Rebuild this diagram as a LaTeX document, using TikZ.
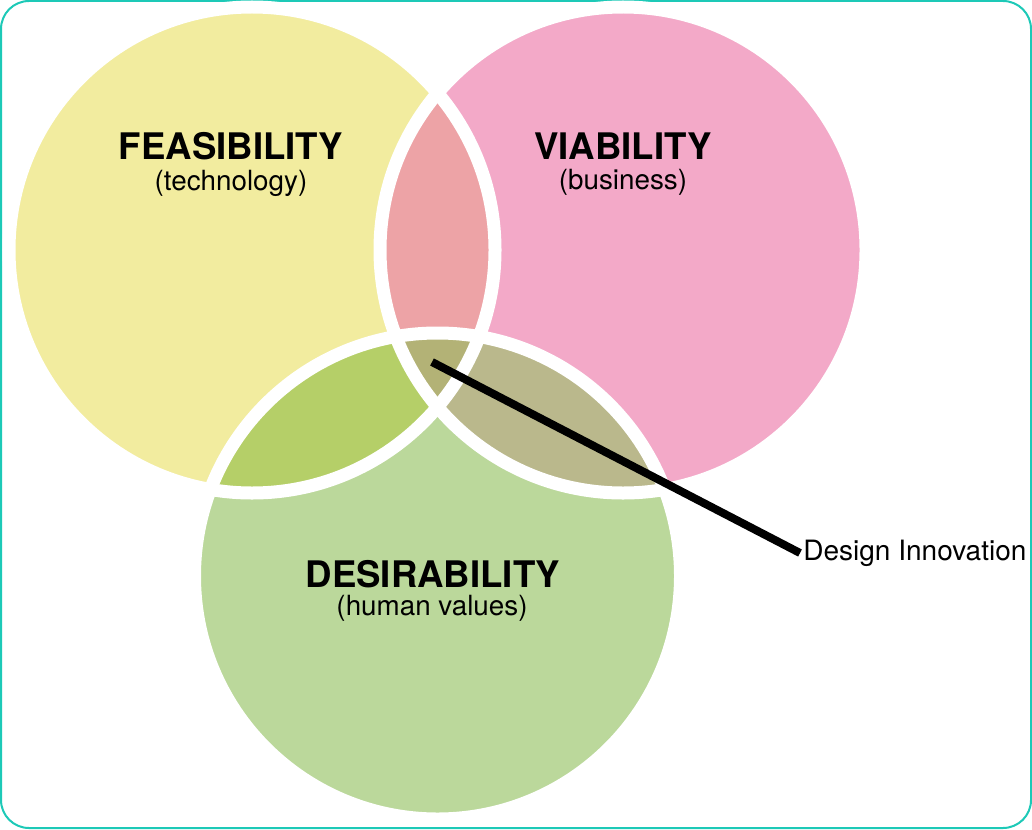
\documentclass[tikz,border=0pt]{standalone}
\usepackage{fontspec}
\setmainfont{TeX Gyre Heros}
\usetikzlibrary{positioning}

\definecolor{feasfill}{HTML}{F2EC9F}
\definecolor{viabfill}{HTML}{F3A9C8}
\definecolor{desifill}{HTML}{BBD89B}
\definecolor{fvfill}{HTML}{EDA3A6}
\definecolor{fdfill}{HTML}{B5CF68}
\definecolor{vdfill}{HTML}{BAB88C}
\definecolor{corefill}{HTML}{B3B276}
\definecolor{frame}{HTML}{1DC9B7}

\begin{document}
\begin{tikzpicture}[
    x=0.5pt, y=-0.5pt,
    % Define styles for reusable components
    title/.style={font=\fontsize{18.3}{20}\selectfont\bfseries, inner sep=0pt},
    subtitle/.style={font=\fontsize{13.9}{16}\selectfont, inner sep=0pt},
    gap/.style={draw=white, line width=6.5pt},
    pointer/.style={line width=4pt}
]
    \def\rad{121.5pt}
    \useasboundingbox (0,0) rectangle (1032,829);

    % --- FRAME ---
    \draw[frame, line width=1pt, rounded corners=14pt] (1,1) rectangle (1031,828);

    % --- CIRCLE CENTRES ---
    \coordinate (F) at (252,250);
    \coordinate (V) at (623,250);
    \coordinate (D) at (437.5,576);

    % --- BASE CIRCLES ---
    \fill[feasfill] (F) circle[radius=\rad];
    \fill[viabfill] (V) circle[radius=\rad];
    \fill[desifill] (D) circle[radius=\rad];

    % --- OVERLAPS ---
    \begin{scope}
        \clip (F) circle[radius=\rad];
        \fill[fvfill] (V) circle[radius=\rad];
        \fill[fdfill] (D) circle[radius=\rad];
    \end{scope}
    \begin{scope}
        \clip (V) circle[radius=\rad];
        \fill[vdfill] (D) circle[radius=\rad];
    \end{scope}
    \begin{scope}
        \clip (F) circle[radius=\rad];
        \clip (V) circle[radius=\rad];
        \fill[corefill] (D) circle[radius=\rad];
    \end{scope}

    % --- WHITE GAPS ---
    \draw[gap] (F) circle[radius=\rad];
    \draw[gap] (V) circle[radius=\rad];
    \draw[gap] (D) circle[radius=\rad];

    % --- LABELS ---
    \node[title] (feas) at (231,146) {FEASIBILITY};
    \node[subtitle] (feassub) at (231,183) {(technology)};
    \node[title] (viab) at (623,146.5) {VIABILITY};
    \node[subtitle] (viabsub) at (623,182.5) {(business)};
    \node[title] (desi) at (433,574) {DESIRABILITY};
    \node[subtitle] (desisub) at (432,608) {(human values)};

    % --- DESIGN INNOVATION POINTER ---
    \coordinate (core) at (432,362);
    \node[anchor=west, inner sep=1.5pt, font=\fontsize{14}{16}\selectfont] (innov) at (800,553) {Design Innovation};
    \draw[pointer] (core) -- (innov.west);

\end{tikzpicture}
\end{document}
